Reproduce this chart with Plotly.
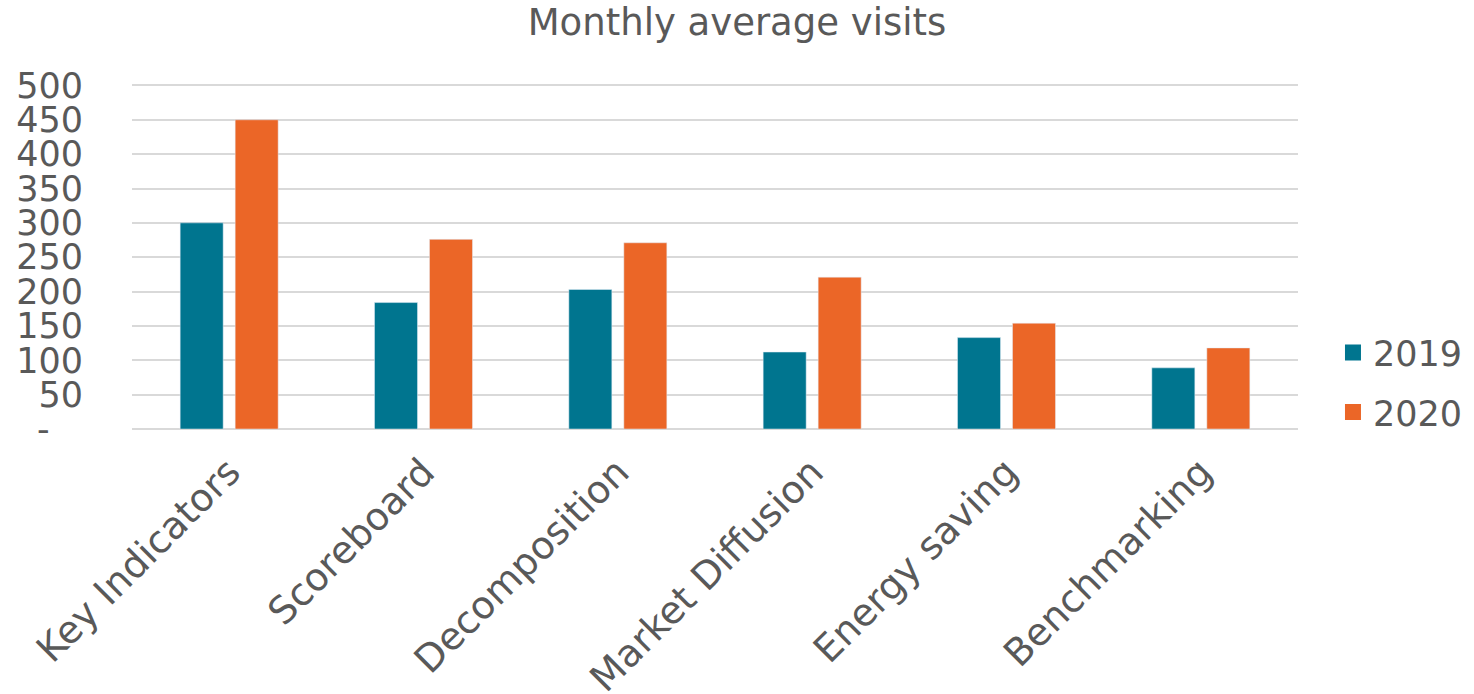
import plotly.graph_objects as go

categories = ["Key Indicators", "Scoreboard", "Decomposition", "Market Diffusion", "Energy saving", "Benchmarking"]
visits_2019 = [300, 184, 203, 112, 133, 89]
visits_2020 = [450, 276, 271, 221, 154, 118]
tick_vals = [0, 50, 100, 150, 200, 250, 300, 350, 400, 450, 500]
tick_text = ["-\u00a0\u00a0\u00a0", "50", "100", "150", "200", "250", "300", "350", "400", "450", "500"]

FONT = "DejaVu Sans"
GRAY = "#595959"
C2019 = "#00758F"
C2020 = "#EB6627"

fig = go.Figure()
fig.add_trace(go.Bar(name="2019", x=categories, y=visits_2019, marker_color=C2019, showlegend=False))
fig.add_trace(go.Bar(name="2020", x=categories, y=visits_2020, marker_color=C2020, showlegend=False))
# legend entries (larger square symbols)
fig.add_trace(go.Scatter(name="2019", x=[None], y=[None], mode="markers", legendgroup="a",
                         marker=dict(symbol="square", size=16, color=C2019)))
fig.add_trace(go.Scatter(name="2020", x=[None], y=[None], mode="markers", legendgroup="b",
                         marker=dict(symbol="square", size=16, color=C2020)))

fig.update_layout(
    width=1474, height=694,
    margin=dict(l=132, r=176, t=82, b=265, autoexpand=False),
    paper_bgcolor="white", plot_bgcolor="white",
    font=dict(family=FONT, color=GRAY, size=35),
    title=dict(text="Monthly average visits", x=0.5, xanchor="center", y=0.968, yanchor="middle",
               font=dict(family=FONT, size=37, color=GRAY)),
    barmode="group", bargap=0.434, bargroupgap=0.218,
    showlegend=True,
    legend=dict(x=1.03, y=0.135, xanchor="left", yanchor="middle", tracegroupgap=11,
                font=dict(family=FONT, size=35, color=GRAY), bgcolor="rgba(0,0,0,0)"),
    xaxis=dict(tickangle=-45, showgrid=False, showline=False, ticks="", automargin=False,
               ticklabelstandoff=12, tickfont=dict(family=FONT, size=38, color=GRAY)),
    yaxis=dict(range=[0, 505], tickvals=tick_vals, ticktext=tick_text, showgrid=True,
               gridcolor="#D9D9D9", gridwidth=1.5, zeroline=True, zerolinecolor="#D9D9D9",
               zerolinewidth=1.5, ticks="", ticklabelstandoff=48, automargin=False,
               tickfont=dict(family=FONT, size=35, color=GRAY)),
)

fig.write_html("out.html", config={"displayModeBar": False},
               post_script="document.body.style.margin='0';")
